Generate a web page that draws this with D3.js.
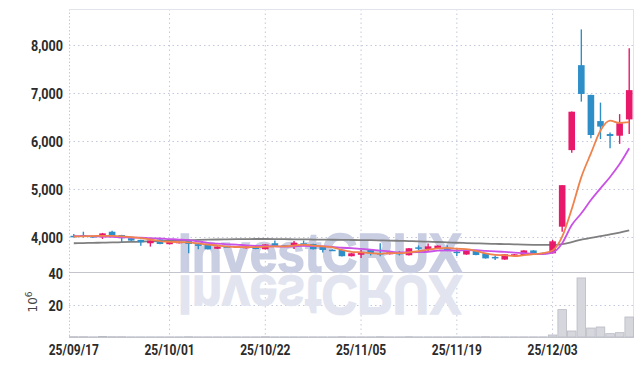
<!DOCTYPE html>
<html><head><meta charset="utf-8">
<script src="https://cdn.jsdelivr.net/npm/d3@7/dist/d3.min.js"></script>
<style>
html,body{margin:0;padding:0;background:#fff;}
svg{display:block;}
.lbl{font-family:'Roboto',sans-serif;font-size:15px;fill:#2b2b2b;font-weight:bold;}
</style></head>
<body>
<svg id="chart" width="643" height="366"></svg>
<script>
// ---- data ----
const dates = ["25/09/17","25/09/18","25/09/19","25/09/22","25/09/23","25/09/24","25/09/25","25/09/26","25/09/29","25/09/30",
"25/10/01","25/10/02","25/10/10","25/10/13","25/10/14","25/10/15","25/10/16","25/10/17","25/10/20","25/10/21",
"25/10/22","25/10/23","25/10/24","25/10/27","25/10/28","25/10/29","25/10/30","25/10/31","25/11/03","25/11/04",
"25/11/05","25/11/06","25/11/07","25/11/10","25/11/11","25/11/12","25/11/13","25/11/14","25/11/17","25/11/18",
"25/11/19","25/11/20","25/11/21","25/11/24","25/11/25","25/11/26","25/11/27","25/11/28","25/12/01","25/12/02",
"25/12/03","25/12/04","25/12/05","25/12/08","25/12/09","25/12/10","25/12/11","25/12/12","25/12/15"];
const opens  = [4025,4040,4020,3995,4110,4040,3975,3940,3870,3950, 3850,3870,3915,3850,3835,3755,3805,3780,3765,3800,
                3745,3870,3825,3800,3870,3855,3800,3735,3730,3600, 3630,3730,3665,3640,3670,3620,3785,3750,3765,3765,
                3695,3635,3710,3660,3585,3530,3625,3625,3720,3670, 3660,4215,5810,7580,6960,6415,6145,6110,6450];
const highs  = [4060,4110,4030,4085,4130,4045,3985,3945,3930,3955, 3905,3905,3920,3870,3840,3805,3810,3815,3805,3805,
                3850,3925,3830,3915,3925,3860,3805,3745,3735,3665, 3730,3750,3870,3685,3710,3770,3825,3865,3825,3830,
                3760,3735,3715,3665,3615,3645,3645,3725,3725,3675, 3940,5080,6615,8325,6965,6800,6175,6560,7930];
const lows   = [3995,3990,3985,3960,4015,3900,3915,3820,3800,3850, 3845,3865,3660,3745,3740,3750,3785,3775,3760,3745,
                3740,3810,3805,3750,3810,3740,3675,3710,3595,3595, 3560,3615,3600,3635,3615,3615,3730,3710,3760,3705,
                3605,3630,3620,3550,3520,3525,3620,3620,3655,3650, 3655,4110,5755,6820,6055,6040,5850,5940,6145];
const closes = [4015,4005,3995,4075,4025,3975,3925,3890,3925,3855, 3900,3900,3855,3815,3745,3800,3790,3810,3800,3750,
                3845,3815,3815,3880,3855,3745,3730,3720,3600,3660, 3690,3660,3635,3680,3660,3765,3775,3805,3820,3710,
                3665,3730,3625,3555,3555,3640,3640,3720,3660,3660, 3910,5080,6610,6980,6125,6300,6105,6370,7060];
const volumes = [0.2,0.2,0.1,0.3,0.2,0.2,0.1,0.1,0.1,0.1, 0.1,0.1,0.2,0.1,0.1,0.1,0.1,0.1,0.1,0.1,
                 0.2,0.1,0.1,0.1,0.1,0.1,0.1,0.1,0.2,0.1, 0.1,0.1,0.2,0.1,0.1,0.2,0.1,0.1,0.1,0.1,
                 0.1,0.1,0.1,0.2,0.1,0.1,0.1,0.1,0.1,0.1, 1.25,17.1,3.75,36.9,5.6,6.25,2.1,2.7,12.5];
const ma5  = [4010,4015,4020,4025,4023,4015,3999,3978,3948,3914, 3899,3894,3887,3865,3843,3823,3801,3792,3789,3790,
              3799,3804,3805,3821,3842,3822,3805,3786,3730,3691, 3680,3666,3649,3665,3665,3680,3703,3737,3765,3775,
              3755,3746,3710,3657,3626,3621,3603,3622,3643,3664, 3718,4006,4584,5248,5741,6219,6424,6376,6392];
const ma10 = [4020,4020,4015,4010,4005,3995,3990,3985,3975,3969, 3957,3947,3933,3907,3879,3861,3848,3840,3827,3817,
              3811,3803,3799,3805,3816,3811,3805,3796,3776,3767, 3751,3736,3718,3698,3678,3680,3685,3693,3715,3720,
              3718,3725,3724,3711,3701,3688,3675,3666,3650,3645, 3675,3870,4250,4494,4770,5014,5250,5520,5848];
const ma60 = [3870,3874,3878,3882,3886,3892,3898,3903,3909,3915, 3922,3928,3933,3939,3944,3948,3951,3954,3956,3958,
              3958,3957,3955,3952,3950,3947,3945,3943,3940,3938, 3936,3933,3929,3925,3920,3915,3910,3903,3896,3889,
              3880,3874,3868,3862,3857,3852,3847,3842,3838,3835, 3834,3852,3895,3945,3981,4019,4054,4093,4140];
const priceTicks = [4000,5000,6000,7000,8000];
const volTicks = [20,40];
const xTickLabels = ["25/09/17","25/10/01","25/10/22","25/11/05","25/11/19","25/12/03"];

// ---- layout ----
const L = 69, R = 634, PT = 9, PB = 272, VT = 273, VB = 337;
const svg = d3.select("#chart");
const x = d3.scaleBand().domain(dates).range([L, R]).padding(0);
const cx = d => x(d) + x.bandwidth()/2;
const y = d3.scaleLinear().domain([4000, 8000]).range([237, 45]);
const yv = d3.scaleLinear().domain([0, 40]).range([VB, VT]);

const gridCol = "#c3c8dc";
const gy = svg.append("g").attr("transform", `translate(${L},0)`)
  .call(d3.axisLeft(y).tickValues(priceTicks).tickSize(-(R-L)).tickFormat(""));
gy.select(".domain").remove();
gy.selectAll("line").attr("stroke", gridCol).attr("stroke-dasharray", "1.5,3");
const gv = svg.append("g").attr("transform", `translate(${L},0)`)
  .call(d3.axisLeft(yv).tickValues([20]).tickSize(-(R-L)).tickFormat(""));
gv.select(".domain").remove();
gv.selectAll("line").attr("stroke", gridCol).attr("stroke-dasharray", "1.5,3");
const gx = svg.append("g")
  .call(d3.axisBottom(x).tickValues(xTickLabels.slice(1)).tickSize(VB-PT).tickFormat(""))
  .attr("transform", `translate(0,${PT})`);
gx.select(".domain").remove();
gx.selectAll("line").attr("stroke", gridCol).attr("stroke-dasharray", "1.5,3");

// frame
svg.append("line").attr("x1",L+0.5).attr("x2",L+0.5).attr("y1",PT).attr("y2",VB).attr("stroke",gridCol).attr("stroke-dasharray","1.5,2");
svg.append("line").attr("x1",R-0.5).attr("x2",R-0.5).attr("y1",PT).attr("y2",VB).attr("stroke","#e2e4ec");
svg.append("line").attr("x1",L).attr("x2",R).attr("y1",PT+0.5).attr("y2",PT+0.5).attr("stroke","#e2e4ec");
svg.append("line").attr("x1",L).attr("x2",R).attr("y1",PB+0.5).attr("y2",PB+0.5).attr("stroke","#c4c4cc");
svg.append("line").attr("x1",L).attr("x2",R).attr("y1",VB+0.5).attr("y2",VB+0.5).attr("stroke","#c9cbd4");

// watermark
const wm = svg.append("g");
function wmText(g, fill) {
  return g.append("text").attr("x", 178).attr("y", 272).attr("textLength", 284).attr("lengthAdjust","spacingAndGlyphs")
    .style("font-family","'Liberation Sans','Arial',sans-serif").style("font-weight","bold").style("font-size","55px")
    .attr("fill", fill).attr("stroke", fill).attr("stroke-width", 1.5).text("InvestCRUX");
}
wmText(wm, "#c9cee2");
wmText(wm.append("g").attr("transform","translate(0,548) scale(1,-1)"), "#e2e5ef");

// volume bars
svg.append("g").selectAll("rect").data(dates).join("rect")
  .attr("x", d => x(d) + 0.5).attr("width", x.bandwidth() - 1)
  .attr("y", (d,i) => yv(volumes[i])).attr("height", (d,i) => VB - yv(volumes[i]))
  .attr("fill", "#d6d6dd").attr("stroke", "#b9bac4").attr("stroke-width", 0.8);

// MA lines + candles
svg.append("clipPath").attr("id", "pclip").append("rect").attr("x", L).attr("y", PT).attr("width", R-L).attr("height", PB-PT);
const lineFor = arr => d3.line().x((d,i) => cx(dates[i])).y(d => y(d)).curve(d3.curveMonotoneX)(arr);
const lg = svg.append("g").attr("clip-path", "url(#pclip)");
lg.append("path").attr("d", lineFor(ma60)).attr("fill","none").attr("stroke","#7f7f7f").attr("stroke-width",1.8);

const up = "#e8196a", dn = "#2e8fc8";
const cg = lg.append("g");
const bw = 6.6;
dates.forEach((d,i) => {
  const col = closes[i] >= opens[i] ? up : dn;
  cg.append("line").attr("x1", cx(d)).attr("x2", cx(d)).attr("y1", y(highs[i])).attr("y2", y(lows[i]))
    .attr("stroke", col).attr("stroke-width", 1.4);
  const top = y(Math.max(opens[i], closes[i])), bot = y(Math.min(opens[i], closes[i]));
  cg.append("rect").attr("x", cx(d) - bw/2).attr("width", bw).attr("y", top).attr("height", Math.max(1.5, bot - top))
    .attr("fill", col);
});
lg.append("path").attr("d", lineFor(ma10)).attr("fill","none").attr("stroke","#c951e6").attr("stroke-width",1.8);
lg.append("path").attr("d", lineFor(ma5)).attr("fill","none").attr("stroke","#f0834c").attr("stroke-width",1.8);

// axes labels (condensed look via horizontal scaling)
const ay = svg.append("g").attr("transform", `translate(${L-6},0)`)
  .call(d3.axisLeft(y).tickValues(priceTicks).tickSize(0).tickFormat(d3.format(",")));
ay.select(".domain").remove();
ay.selectAll("text").attr("class","lbl").attr("dy","0.35em").attr("x",0).attr("transform","scale(0.84,1)");
const av = svg.append("g").attr("transform", `translate(${L-6},0)`)
  .call(d3.axisLeft(yv).tickValues(volTicks).tickSize(0));
av.select(".domain").remove();
av.selectAll("text").attr("class","lbl").attr("dy","0.35em").attr("x",0).attr("transform","scale(0.84,1)");
const ax = svg.append("g").attr("transform", `translate(0,${VB})`)
  .call(d3.axisBottom(x).tickValues(xTickLabels).tickSize(0));
ax.select(".domain").remove();
ax.selectAll("text").attr("class","lbl").attr("y", 18).attr("dy","0").attr("transform","scale(0.8,1)");

// unit label
const ul = svg.append("text").attr("transform","translate(37,302) rotate(-90)")
  .attr("text-anchor","middle").style("font-family","'DejaVu Sans',sans-serif").style("font-size","12px").attr("fill","#444");
ul.append("tspan").text("10");
ul.append("tspan").attr("dy","-5").style("font-size","9px").text("6");
</script>
</body></html>
